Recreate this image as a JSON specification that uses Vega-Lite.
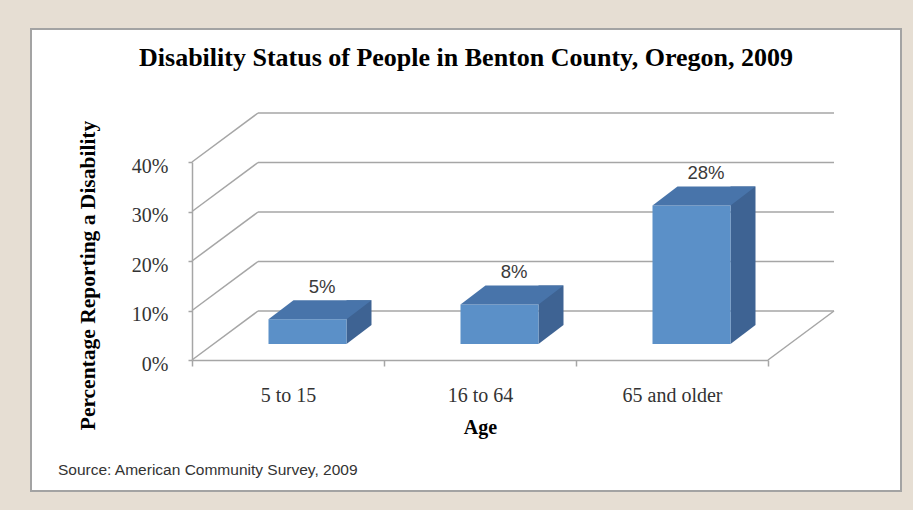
{
  "$schema": "https://vega.github.io/schema/vega-lite/v6.json",
  "width": 870,
  "height": 462,
  "autosize": "none",
  "padding": {"left": 31, "top": 29, "right": 12, "bottom": 19},
  "background": "#e6ded3",
  "config": {
    "view": {"fill": "#ffffff", "stroke": "#a3a3a3", "strokeWidth": 2},
    "axis": {
      "grid": false,
      "domainColor": "#a6a6a6",
      "domainWidth": 1.5,
      "tickColor": "#a6a6a6",
      "tickWidth": 1.5,
      "labelFont": "Liberation Serif",
      "labelFontSize": 20,
      "labelColor": "#333333",
      "titleFont": "Liberation Serif",
      "titleFontSize": 20,
      "titleFontWeight": "bold",
      "titleColor": "#000000"
    }
  },
  "title": {
    "text": "Disability Status of People in Benton County, Oregon, 2009",
    "font": "Liberation Serif",
    "fontSize": 26,
    "fontWeight": "bold",
    "color": "#000000",
    "anchor": "middle",
    "offset": -42
  },
  "datasets": {
    "bars": [
      {"age": "5 to 15", "pct": 0.05},
      {"age": "16 to 64", "pct": 0.08},
      {"age": "65 and older", "pct": 0.28}
    ],
    "grid": [{"v": 0}, {"v": 0.1}, {"v": 0.2}, {"v": 0.3}, {"v": 0.4}],
    "note": [{"src": "Source: American Community Survey, 2009"}]
  },
  "layer": [
    {
      "data": {"name": "grid"},
      "mark": {"type": "rule", "color": "#a6a6a6", "strokeWidth": 1.5, "xOffset": 66, "x2Offset": 66, "yOffset": -49, "y2Offset": -49},
      "encoding": {
        "x": {
          "datum": "5 to 15", "type": "nominal", "bandPosition": 0,
          "scale": {"domain": ["5 to 15", "16 to 64", "65 and older"], "range": [161, 737], "paddingInner": 0, "paddingOuter": 0},
          "axis": {"title": "Age", "offset": -131, "tickBand": "extent", "tickSize": 6, "labelPadding": 19, "labelAngle": 0, "titlePadding": 12}
        },
        "x2": {"datum": "65 and older", "bandPosition": 1},
        "y": {
          "field": "v", "type": "quantitative",
          "scale": {"domain": [0, 0.4], "range": [331, 133], "nice": false},
          "axis": {
            "title": "Percentage Reporting a Disability",
            "values": [0, 0.1, 0.2, 0.3, 0.4],
            "format": ".0%",
            "offset": -161,
            "tickSize": 4,
            "labelPadding": 20,
            "labelOffset": 4,
            "titleFontSize": 21.5,
            "titleX": -104,
            "titleY": 246,
            "titleAngle": -90,
            "titleAlign": "center",
            "titleBaseline": "middle"
          }
        },
        "y2": {"field": "v"}
      }
    },
    {
      "data": {"name": "grid"},
      "mark": {"type": "rule", "color": "#a6a6a6", "strokeWidth": 1.5, "x2Offset": 66, "y2Offset": -49},
      "encoding": {
        "x": {"datum": "5 to 15", "type": "nominal", "bandPosition": 0},
        "x2": {"datum": "5 to 15", "bandPosition": 0},
        "y": {"field": "v", "type": "quantitative"},
        "y2": {"field": "v"}
      }
    },
    {
      "data": {"name": "grid"},
      "transform": [{"filter": "datum.v == 0"}],
      "mark": {"type": "rule", "color": "#a6a6a6", "strokeWidth": 1.5, "x2Offset": 66, "y2Offset": -49},
      "encoding": {
        "x": {"datum": "65 and older", "type": "nominal", "bandPosition": 1},
        "x2": {"datum": "65 and older", "bandPosition": 1},
        "y": {"field": "v", "type": "quantitative"},
        "y2": {"field": "v"}
      }
    },
    {
      "data": {"name": "bars"},
      "mark": {"type": "bar", "color": "#3e6393", "width": 25, "xOffset": 71, "yOffset": -35, "y2Offset": -35},
      "encoding": {
        "x": {"field": "age", "type": "nominal"},
        "y": {"field": "pct", "type": "quantitative"}
      }
    },
    {
      "data": {"name": "bars"},
      "mark": {"type": "point", "shape": "M-1,-0.76L-1,0.76L1,-0.76Z", "size": 625, "filled": true, "opacity": 1, "color": "#3e6393", "strokeWidth": 0, "xOffset": 71, "yOffset": -25.5},
      "encoding": {
        "x": {"field": "age", "type": "nominal"},
        "y": {"datum": 0, "type": "quantitative"}
      }
    },
    {
      "data": {"name": "bars"},
      "mark": {"type": "bar", "color": "#5b90c8", "width": 78, "xOffset": 19.5, "yOffset": -16, "y2Offset": -16},
      "encoding": {
        "x": {"field": "age", "type": "nominal"},
        "y": {"field": "pct", "type": "quantitative"}
      }
    },
    {
      "data": {"name": "bars"},
      "mark": {"type": "point", "shape": "M-1,0.1845L0.5146,0.1845L1,-0.1845L-0.5146,-0.1845Z", "size": 10609, "filled": true, "opacity": 1, "color": "#4874aa", "strokeWidth": 0, "xOffset": 32, "yOffset": -25.5},
      "encoding": {
        "x": {"field": "age", "type": "nominal"},
        "y": {"field": "pct", "type": "quantitative"}
      }
    },
    {
      "data": {"name": "bars"},
      "mark": {"type": "text", "font": "Liberation Sans", "fontSize": 18.5, "color": "#3a3a3a", "baseline": "middle", "align": "center", "xOffset": 34, "yOffset": -48},
      "encoding": {
        "x": {"field": "age", "type": "nominal"},
        "y": {"field": "pct", "type": "quantitative"},
        "text": {"field": "pct", "type": "quantitative", "format": ".0%"}
      }
    },
    {
      "data": {"name": "note"},
      "mark": {"type": "text", "font": "Liberation Sans", "fontSize": 15.5, "color": "#333333", "align": "left", "baseline": "middle", "dx": -134, "dy": 110},
      "encoding": {
        "x": {"datum": "5 to 15", "type": "nominal", "bandPosition": 0},
        "y": {"datum": 0, "type": "quantitative"},
        "text": {"field": "src"}
      }
    }
  ]
}
